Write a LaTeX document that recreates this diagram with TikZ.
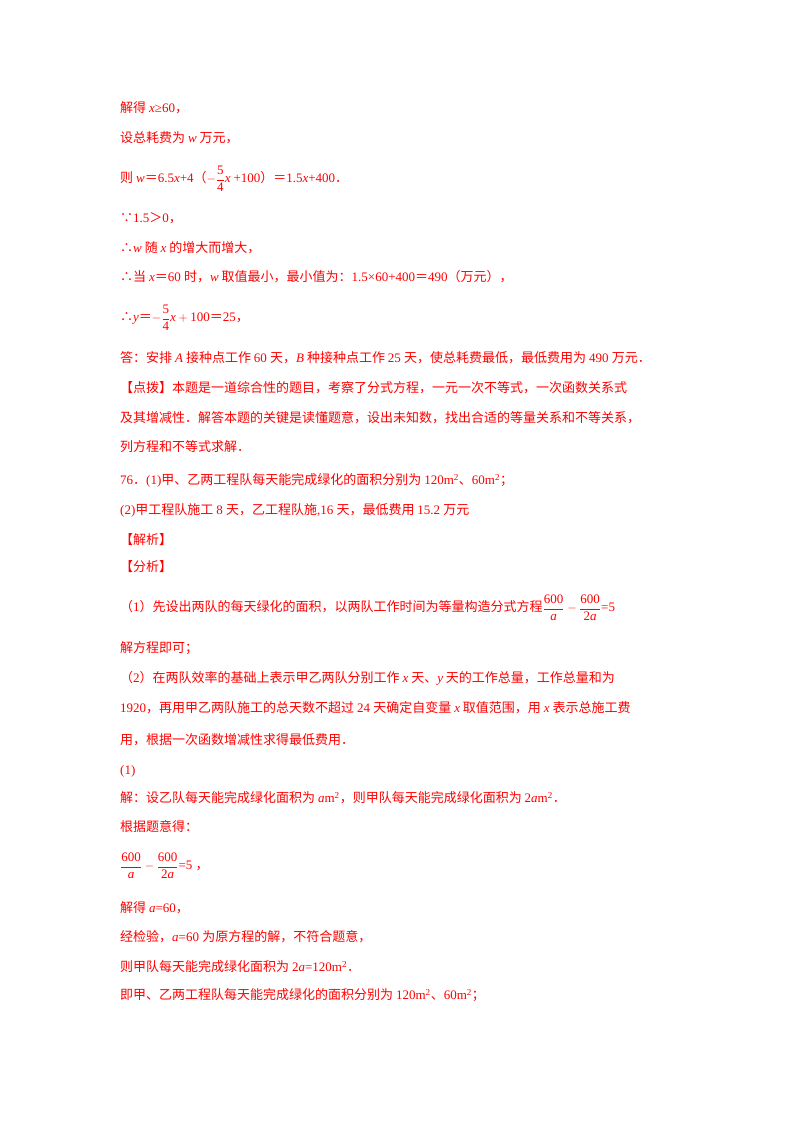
\documentclass[tikz,border=0pt]{standalone}
\usepackage{amsmath}
\usepackage{fontspec}
\setmainfont{Liberation Serif}
\newfontfamily\cjk{Noto Sans CJK SC}
\XeTeXinterchartokenstate=1
\newXeTeXintercharclass\cjkclass
\newcount\cc
\cc="3000 \loop \XeTeXcharclass\cc=\cjkclass \advance\cc by 1 \ifnum\cc<"A000 \repeat
\cc="FF00 \loop \XeTeXcharclass\cc=\cjkclass \advance\cc by 1 \ifnum\cc<"FFF0 \repeat
\XeTeXcharclass"2234=\cjkclass
\XeTeXcharclass"2235=\cjkclass
\XeTeXinterchartoks 0 \cjkclass = {\cjk}
\XeTeXinterchartoks 4095 \cjkclass = {\cjk}
\XeTeXinterchartoks \cjkclass 0 = {\rmfamily}
\XeTeXinterchartoks 4095 0 = {\rmfamily}
\definecolor{txt}{RGB}{255,0,0}
\tikzset{ln/.style={anchor=base west,inner sep=0pt,text=txt,font=\fontsize{13}{15}\selectfont}}
\newcommand\fr[2]{\dfrac{\text{#1}}{\text{#2}}}
\begin{document}
\begin{tikzpicture}[x=1pt,y=1pt]
\useasboundingbox[fill=white] (0,0) rectangle (800,1132);
\def\X{120}
\node[ln] (l1) at (\X,1132-113) {解得 \textit{x}≥60，};
\node[ln] (l2) at (\X,1132-143) {设总耗费为 \textit{w} 万元，};
\node[ln] (l3) at (\X,1132-183) {则 \textit{w}＝6.5\textit{x}+4（$-\fr{5}{4}\textit{x}$ +100）＝1.5\textit{x}+400．};
\node[ln] (l4) at (\X,1132-223) {∵1.5＞0，};
\node[ln] (l5) at (\X,1132-253) {∴\textit{w} 随 \textit{x} 的增大而增大，};
\node[ln] (l6) at (\X,1132-282) {∴当 \textit{x}＝60 时，\textit{w} 取值最小，最小值为：1.5×60+400＝490（万元），};
\node[ln] (l7) at (\X,1132-322) {∴\textit{y}＝$-\fr{5}{4}\textit{x}+\text{100}$＝25，};
\node[ln] (l8) at (\X,1132-363) {答：安排 \textit{A} 接种点工作 60 天，\textit{B} 种接种点工作 25 天，使总耗费最低，最低费用为 490 万元．};
\node[ln] (l9) at (\X,1132-393) {【点拨】本题是一道综合性的题目，考察了分式方程，一元一次不等式，一次函数关系式};
\node[ln] (l10) at (\X,1132-423) {及其增减性．解答本题的关键是读懂题意，设出未知数，找出合适的等量关系和不等关系，};
\node[ln] (l11) at (\X,1132-452) {列方程和不等式求解．};
\node[ln] (l12) at (\X,1132-485) {76．(1)甲、乙两工程队每天能完成绿化的面积分别为 120m\textsuperscript{2}、60m\textsuperscript{2}；};
\node[ln] (l13) at (\X,1132-515) {(2)甲工程队施工 8 天，乙工程队施,16 天，最低费用 15.2 万元};
\node[ln] (l14) at (\X,1132-545) {【解析】};
\node[ln] (l15) at (\X,1132-572) {【分析】};
\node[ln] (l16) at (\X,1132-612) {（1）先设出两队的每天绿化的面积，以两队工作时间为等量构造分式方程$\fr{600}{\textit{a}}-\fr{600}{2\textit{a}}$=5};
\node[ln] (l17) at (\X,1132-653) {解方程即可；};
\node[ln] (l18) at (\X,1132-683) {（2）在两队效率的基础上表示甲乙两队分别工作 \textit{x} 天、\textit{y} 天的工作总量，工作总量和为};
\node[ln] (l19) at (\X,1132-713) {1920，再用甲乙两队施工的总天数不超过 24 天确定自变量 \textit{x} 取值范围，用 \textit{x} 表示总施工费};
\node[ln] (l20) at (\X,1132-745) {用，根据一次函数增减性求得最低费用．};
\node[ln] (l21) at (\X,1132-775) {(1)};
\node[ln] (l22) at (\X,1132-803) {解：设乙队每天能完成绿化面积为 \textit{a}m\textsuperscript{2}，则甲队每天能完成绿化面积为 2\textit{a}m\textsuperscript{2}．};
\node[ln] (l23) at (\X,1132-832) {根据题意得：};
\node[ln] (l24) at (\X,1132-870) {$\fr{600}{\textit{a}}-\fr{600}{2\textit{a}}$=5 ，};
\node[ln] (l25) at (\X,1132-913) {解得 \textit{a}=60，};
\node[ln] (l26) at (\X,1132-942) {经检验，\textit{a}=60 为原方程的解，不符合题意，};
\node[ln] (l27) at (\X,1132-972) {则甲队每天能完成绿化面积为 2\textit{a}=120m\textsuperscript{2}．};
\node[ln] (l28) at (\X,1132-1000) {即甲、乙两工程队每天能完成绿化的面积分别为 120m\textsuperscript{2}、60m\textsuperscript{2}；};
\end{tikzpicture}
\end{document}
